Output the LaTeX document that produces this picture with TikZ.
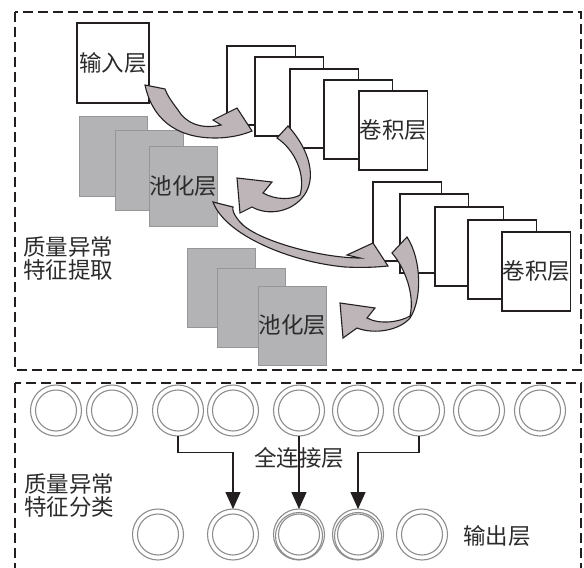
\documentclass[tikz,border=0pt]{standalone}
\usepackage{fontspec}
\newfontfamily\cjk{Noto Sans CJK SC}
\usetikzlibrary{arrows.meta,calc}
\definecolor{linec}{HTML}{231F20}
\definecolor{txt}{HTML}{2B2B2B}
\definecolor{poolfill}{RGB}{179,179,181}
\definecolor{poolline}{RGB}{150,150,152}
\definecolor{arrowfill}{RGB}{189,181,183}
\definecolor{ringc}{RGB}{140,140,140}
\begin{document}
\begin{tikzpicture}[x=1bp,y=-1bp,
  convbox/.style={draw=linec, line width=1.3bp, fill=white, anchor=north west,
    minimum width=68.5bp, minimum height=79bp, inner sep=0pt, outer sep=0pt},
  poolbox/.style={draw=poolline, line width=1bp, fill=poolfill, anchor=north west,
    minimum width=68.5bp, minimum height=79bp, inner sep=0pt, outer sep=0pt},
  lbl/.style={font=\cjk\fontsize{22.5bp}{23bp}\selectfont, text=txt, inner sep=0pt},
  bendarrow/.style={fill=arrowfill, draw=linec, line width=1.1bp, line join=miter},
  frame/.style={draw=linec, line width=1.3bp, dash pattern=on 10bp off 5bp},
  ring/.style={circle, draw=ringc, line width=1.1bp, minimum size=51bp, inner sep=0pt, outer sep=0pt},
  ringline/.style={draw=ringc, line width=1.1bp},
  fc/.style={draw=linec, line width=1.3bp, -{Triangle[length=17bp,width=15bp]}}
]
\useasboundingbox (0,0) rectangle (584,568);
\clip (0,0) rectangle (584,568);

% frames
\draw[frame] (15,12) rectangle (581,370);
\draw[frame] (15,383) rectangle (581,600);

% input layer
\node[convbox, minimum width=72bp, minimum height=80bp, lbl] (in) at (77,23) {输入层};

% conv layer 1
\node[convbox] (ca1) at (227,46) {};
\node[convbox] (ca2) at (255,57) {};
\node[convbox] (ca3) at (290,69) {};
\node[convbox] (ca4) at (324,80) {};
\node[convbox, lbl] (ca5) at (359,91) {卷积层};

% pooling layer 1
\node[poolbox] (pa1) at (79,117) {};
\node[poolbox] (pa2) at (115,131) {};
\node[poolbox, lbl] (pa3) at (149,147) {池化层};

% conv layer 2
\node[convbox] (cb1) at (373,182) {};
\node[convbox] (cb2) at (400,194) {};
\node[convbox] (cb3) at (435,207) {};
\node[convbox] (cb4) at (468,220) {};
\node[convbox, lbl] (cb5) at (502,232) {卷积层};

% pooling layer 2
\node[poolbox] (pb1) at (187,248) {};
\node[poolbox] (pb2) at (217,268) {};
\node[poolbox, lbl] (pb3) at (258,286) {池化层};

% curved block arrows
\draw[bendarrow] (145,85) .. controls (152,118) and (175,138) .. (215,138)
  .. controls (232,138) and (245,134) .. (252,131) -- (237,108) -- (213,120) -- (221,125)
  .. controls (200,130) and (185,122) .. (178,110) .. controls (172,102) and (167,95) .. (165,89) -- cycle;
\draw[bendarrow] (288,126) .. controls (310,150) and (318,180) .. (302,198)
  .. controls (290,212) and (268,216) .. (252,207) -- (240,213) -- (237,178) -- (272,182) -- (263,193)
  .. controls (275,200) and (292,200) .. (300,195) .. controls (306,175) and (295,150) .. (277,138) -- cycle;
\draw[bendarrow] (213,202) .. controls (225,235) and (290,262) .. (345,267)
  .. controls (365,268) and (378,267) .. (388,266) -- (373,243) -- (347,255) -- (360,258)
  .. controls (320,258) and (255,240) .. (240,222) .. controls (234,215) and (232,210) .. (233,207) -- cycle;
\draw[bendarrow] (407,237) .. controls (422,260) and (422,300) .. (410,318)
  .. controls (400,330) and (375,335) .. (357,328) -- (343,338) -- (340,303) -- (375,308) -- (367,318)
  .. controls (380,325) and (400,322) .. (410,316) .. controls (415,295) and (405,268) .. (392,253) -- cycle;

% side labels
\node[lbl, align=left] (lab1) at (68,258) {质量异常\\特征提取};
\node[lbl, align=left] (lab2) at (69,495) {质量异常\\特征分类};

% fully connected layer
\foreach \n/\x in {1/56,2/112,3/178,4/233,5/299,6/358,7/419,8/479,9/540} {
  \node[ring] (c\n) at (\x,410.5) {};
  \draw[ringline] (c\n.center) circle[radius=20.5];
}
% output layer
\foreach \n/\x in {1/158,2/233,3/299,4/358,5/422} {
  \node[ring] (o\n) at (\x,534.5) {};
  \draw[ringline] (o\n.center) circle[radius=20.5];
}
\foreach \n in {3,4} {
  \draw[ringline] ($(o\n.center)+(0,1.5)$) circle[radius=23.5];
}

\node[lbl] (fcl) at (299,458) {全连接层};
\node[lbl] (outl) at (497,536) {输出层};

\draw[fc] (c3.south) -- ++(0,16.5) -| (o2.north);
\draw[fc] (c5.south) -- (o3.north);
\draw[fc] (c7.south) -- ++(0,16.5) -| (o4.north);
\end{tikzpicture}
\end{document}
